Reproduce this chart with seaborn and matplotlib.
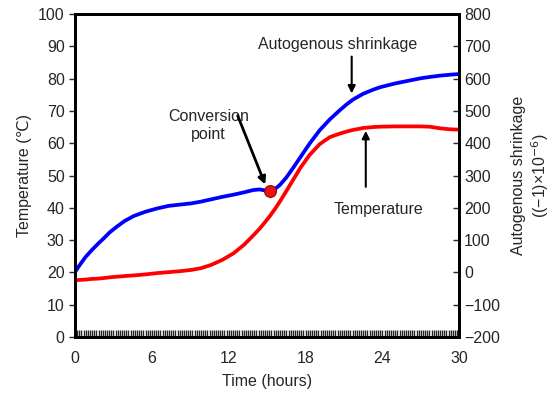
import numpy as np
import pandas as pd
import matplotlib
matplotlib.use("Agg")
from matplotlib import pyplot as plt
from matplotlib.ticker import MultipleLocator
import seaborn as sns

# time in hours
hours = [0, 0.4, 0.8, 1.3, 1.8, 2.3, 2.7, 3.3, 3.9, 4.6, 5.5, 6.4, 7.3, 8.2, 9.1,
         9.8, 10.6, 11.5, 12.4, 13.2, 13.9, 14.4, 14.8, 15.2, 15.6, 16.0, 16.5,
         17.0, 17.6, 18.3, 19.1, 19.9, 20.7, 21.2, 21.7, 22.5, 23.3, 23.8, 25.0,
         26.0, 27.0, 27.7, 28.5, 29.3, 30.0]
# temperature (deg C), left axis
temperature = [17.6, 17.7, 17.8, 18.0, 18.1, 18.3, 18.5, 18.7, 18.9, 19.1, 19.4,
               19.8, 20.1, 20.4, 20.8, 21.3, 22.3, 23.9, 26.0, 28.6, 31.4, 33.5,
               35.4, 37.4, 39.6, 42.0, 45.2, 48.5, 52.4, 56.3, 59.7, 61.9, 63.0,
               63.6, 64.1, 64.7, 65.0, 65.1, 65.2, 65.2, 65.2, 65.1, 64.6, 64.3,
               64.2]
# autogenous shrinkage x(-1)x1e-6, right axis
shrinkage = [2, 25, 47, 69, 89, 108, 124, 143, 160, 175, 188, 198, 206, 210, 214,
             219, 226, 234, 241, 248, 255, 257, 254, 253, 258, 271, 294, 322, 357,
             398, 440, 474, 503, 520, 535, 553, 566, 573, 585, 593, 601, 605, 609,
             612, 614]
conv_time, conv_shrink = 15.2, 253

sns.set_style("white")
plt.rcParams["font.family"] = ["Liberation Sans", "DejaVu Sans"]

df = pd.DataFrame({"hours": hours, "temperature": temperature, "shrinkage": shrinkage})

fig = plt.figure(figsize=(5.52, 3.98), dpi=100)
ax = fig.add_axes([0.136, 0.153, 0.696, 0.812])
ax2 = ax.twinx()

sns.lineplot(data=df, x="hours", y="temperature", ax=ax, color="#ff0000", lw=2.7)
sns.lineplot(data=df, x="hours", y="shrinkage", ax=ax2, color="#0000ff", lw=2.7)
ax2.plot([conv_time], [conv_shrink], "o", ms=8.5, mfc="#ee1111", mec="#990000", mew=0.8)

ax.set_xlim(0, 30)
ax.set_ylim(0, 100)
ax2.set_ylim(-200, 800)
ax.xaxis.set_major_locator(MultipleLocator(6))
ax.xaxis.set_minor_locator(MultipleLocator(1 / 6))
ax.yaxis.set_major_locator(MultipleLocator(10))
ax2.yaxis.set_major_locator(MultipleLocator(100))

for a in (ax, ax2):
    for s in a.spines.values():
        s.set_linewidth(2)
        s.set_color("black")

ax.tick_params(axis="x", which="both", direction="in", length=5, width=1,
               labelsize=11.5, pad=10, bottom=True)
ax.tick_params(axis="y", direction="out", length=4, width=1, labelsize=11.5, left=True)
ax2.tick_params(axis="y", direction="in", length=4, width=1, labelsize=11.5, right=True)

ax.set_xlabel("Time (hours)", fontsize=11.5, labelpad=6)
ax.set_ylabel("Temperature (\u2103)", fontsize=11.5)
ax2.set_ylabel("Autogenous shrinkage\n((\u22121)\u00d710$^{-6}$)", fontsize=11.5,
               rotation=90, labelpad=8)

arrow = dict(arrowstyle="-|>", color="black", lw=1.5, shrinkA=0, shrinkB=0,
             mutation_scale=11)
ax.text(20.5, 90.6, "Autogenous shrinkage", ha="center", va="center", fontsize=11.5)
ax.annotate("", xy=(21.6, 75.4), xytext=(21.6, 86.8), arrowprops=arrow)
ax.text(23.7, 39.6, "Temperature", ha="center", va="center", fontsize=11.5)
ax.annotate("", xy=(22.7, 63.8), xytext=(22.7, 46.5), arrowprops=arrow)
ax.text(10.4, 65.5, "Conversion\npoint", ha="center", va="center", fontsize=11.5,
        linespacing=1.3)
ax.annotate("", xy=(14.85, 47.2), xytext=(12.7, 68.5),
            arrowprops=dict(arrow, lw=2))

fig.savefig("out.png", dpi=100)
